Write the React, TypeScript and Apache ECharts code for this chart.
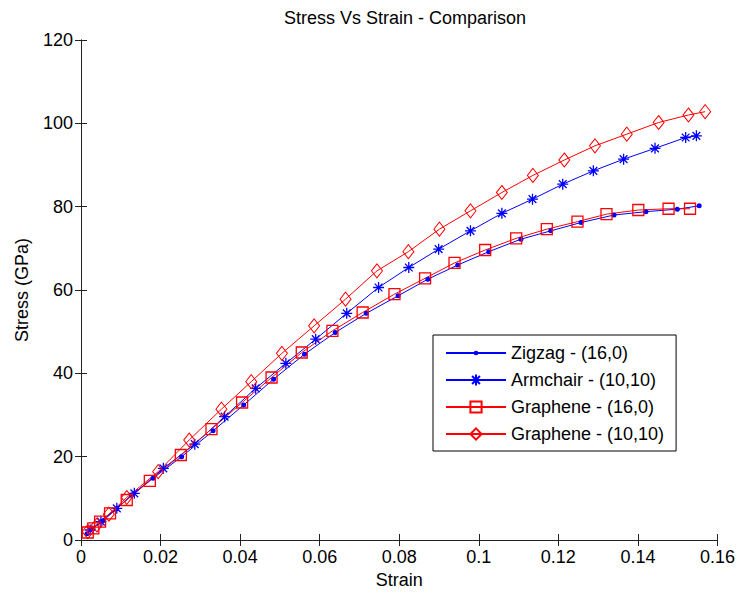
import React, { useEffect, useRef } from "react";
import * as echarts from "echarts";

const xTicks = [0, 0.02, 0.04, 0.06, 0.08, 0.1, 0.12, 0.14, 0.16];
const yTicks = [0, 20, 40, 60, 80, 100, 120];

const zigzag: [number, number][] = [
  [0.0015, 1.5], [0.003, 2.8], [0.0055, 4.6], [0.009, 7.5], [0.0127, 10.8],
  [0.0181, 14.8], [0.0253, 20.0], [0.0332, 26.2], [0.0409, 32.4], [0.0484, 38.6],
  [0.0562, 44.6], [0.0639, 49.8], [0.0717, 54.4], [0.0797, 58.6], [0.0872, 62.6],
  [0.0947, 66.0], [0.1025, 69.2], [0.1106, 72.2], [0.1181, 74.2], [0.1257, 76.2],
  [0.134, 78.0], [0.142, 78.8], [0.1499, 79.4], [0.1554, 80.2],
];

const armchair: [number, number][] = [
  [0.0023, 2.4], [0.005, 4.4], [0.009, 7.6], [0.0134, 11.2], [0.0207, 17.2],
  [0.0286, 23.0], [0.0361, 29.6], [0.0439, 36.4], [0.0515, 42.4], [0.059, 48.2],
  [0.0668, 54.4], [0.0748, 60.6], [0.0824, 65.4], [0.0899, 69.8], [0.0979, 74.2],
  [0.1058, 78.4], [0.1135, 81.8], [0.1211, 85.4], [0.1288, 88.6], [0.1364, 91.4],
  [0.1443, 94.0], [0.152, 96.6], [0.1547, 97.0],
];

const graphene160: [number, number][] = [
  [0.0017, 1.8], [0.0031, 2.8], [0.0048, 4.4], [0.0073, 6.4], [0.0115, 9.6],
  [0.0173, 14.2], [0.0251, 20.4], [0.0328, 26.6], [0.0405, 33.0], [0.0479, 39.0],
  [0.0555, 45.0], [0.0632, 50.2], [0.0708, 54.6], [0.0788, 59.0], [0.0865, 62.8],
  [0.0939, 66.5], [0.1016, 69.6], [0.1094, 72.4], [0.1171, 74.6], [0.1248, 76.4],
  [0.1321, 78.2], [0.1401, 79.2], [0.1477, 79.5], [0.1531, 79.5],
];

const graphene1010: [number, number][] = [
  [0.0017, 2.0], [0.004, 3.6], [0.007, 6.2], [0.0115, 10.2], [0.0194, 16.4],
  [0.0272, 24.0], [0.0353, 31.4], [0.0428, 38.0], [0.0505, 44.8], [0.0586, 51.4],
  [0.0665, 57.8], [0.0744, 64.6], [0.0823, 69.2], [0.0901, 74.6], [0.0979, 79.0],
  [0.1058, 83.4], [0.1136, 87.5], [0.1215, 91.2], [0.1292, 94.6], [0.1372, 97.4],
  [0.1452, 100.2], [0.1527, 102.0], [0.1569, 102.8],
];

const seriesNames = ["Zigzag - (16,0)", "Armchair - (10,10)", "Graphene - (16,0)", "Graphene - (10,10)"];

const FONT = "'Liberation Sans', Arial, sans-serif";
const ASTERISK = "path://M5,0L5,10M0,5L10,5M1.5,1.5L8.5,8.5M1.5,8.5L8.5,1.5";
const SMALL_DOT = "path://M0,0M12,12M3.5,6A2.5,2.5,0,1,1,8.5,6A2.5,2.5,0,1,1,3.5,6Z";

export default function App() {
  const ref = useRef<HTMLDivElement>(null);
  useEffect(() => {
    if (!ref.current) return;
    const chart = echarts.init(ref.current, null, { renderer: "svg" });
    const axisCommon = {
      type: "value" as const,
      axisLine: { show: true, lineStyle: { color: "#222", width: 1 } },
      splitLine: { show: false },
      axisTick: { show: true, inside: true, length: 6, lineStyle: { color: "#222" } },
    };
    chart.setOption({
      animation: false,
      backgroundColor: "#fff",
      title: {
        text: "Stress Vs Strain - Comparison",
        left: 400,
        top: 4,
        textAlign: "center",
        textStyle: { fontFamily: FONT, fontSize: 18, fontWeight: "normal", color: "#000" },
      },
      grid: { left: 81, right: 20, top: 40, bottom: 54 },
      legend: {
        orient: "vertical",
        left: 433,
        top: 335,
        data: seriesNames,
        itemWidth: 60,
        itemHeight: 14,
        itemGap: 9,
        padding: [9, 12, 8, 12],
        borderColor: "#000",
        borderWidth: 1,
        backgroundColor: "#fff",
        textStyle: { fontFamily: FONT, fontSize: 18, color: "#000" },
      },
      xAxis: [
        {
          ...axisCommon,
          min: 0,
          max: 0.16,
          interval: 0.02,
          position: "bottom",
          name: "Strain",
          nameLocation: "middle",
          nameGap: 30,
          nameTextStyle: { fontFamily: FONT, fontSize: 18, color: "#000" },
          axisLabel: {
            fontFamily: FONT,
            fontSize: 18,
            color: "#000",
            margin: 8,
            formatter: (v: number) => {
              const t = xTicks.find((k) => Math.abs(k - v) < 1e-9);
              return String(t !== undefined ? t : +v.toFixed(2));
            },
          },
        },
        {
          ...axisCommon,
          min: 0,
          max: 0.16,
          interval: 0.02,
          position: "top",
          axisLabel: { show: false },
        },
      ],
      yAxis: [
        {
          ...axisCommon,
          min: 0,
          max: 120,
          interval: 20,
          position: "left",
          name: "Stress (GPa)",
          nameLocation: "middle",
          nameGap: 50,
          nameTextStyle: { fontFamily: FONT, fontSize: 18, color: "#000" },
          axisLabel: {
            fontFamily: FONT,
            fontSize: 18,
            color: "#000",
            margin: 8,
            formatter: (v: number) => {
              const t = yTicks.find((k) => Math.abs(k - v) < 1e-9);
              return String(t !== undefined ? t : v);
            },
          },
        },
        {
          ...axisCommon,
          min: 0,
          max: 120,
          interval: 20,
          position: "right",
          axisLabel: { show: false },
        },
      ],
      series: [
        {
          name: seriesNames[0],
          type: "line",
          data: zigzag,
          symbol: SMALL_DOT,
          symbolSize: 12,
          lineStyle: { color: "#0000ff", width: 1 },
          itemStyle: { color: "#0000ff", borderColor: "#0000ff", borderWidth: 0 },
        },
        {
          name: seriesNames[1],
          type: "line",
          data: armchair,
          symbol: ASTERISK,
          symbolSize: 11,
          lineStyle: { color: "#0000ff", width: 1 },
          itemStyle: { color: "#0000ff", borderColor: "#0000ff", borderWidth: 1.3 },
        },
        {
          name: seriesNames[2],
          type: "line",
          data: graphene160,
          symbol: "rect",
          symbolSize: 11,
          lineStyle: { color: "#ff0000", width: 1 },
          itemStyle: { color: "rgba(255,255,255,0)", borderColor: "#ff0000", borderWidth: 1.3 },
        },
        {
          name: seriesNames[3],
          type: "line",
          data: graphene1010,
          symbol: "diamond",
          symbolSize: [11, 14],
          lineStyle: { color: "#ff0000", width: 1 },
          itemStyle: { color: "rgba(255,255,255,0)", borderColor: "#ff0000", borderWidth: 1 },
        },
      ],
    });
    return () => chart.dispose();
  }, []);
  return (
    <div
      ref={ref}
      style={{ position: "absolute", left: 0, top: 0, width: 738, height: 594, background: "#fff" }}
    />
  );
}
